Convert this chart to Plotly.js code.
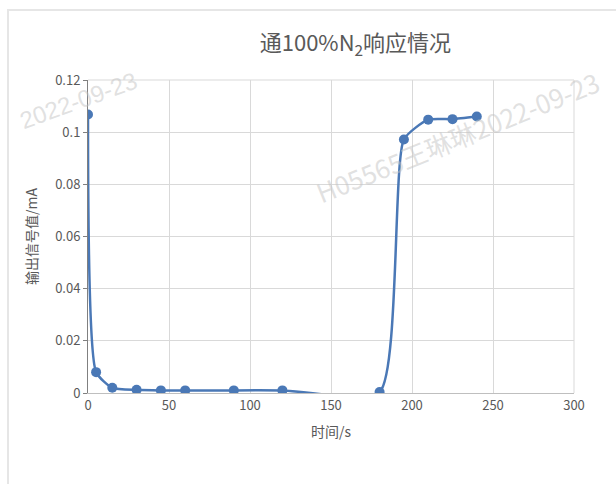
<!DOCTYPE html>
<html>
<head>
<meta charset="utf-8">
<script src="https://cdn.plot.ly/plotly-3.0.1.min.js"></script>
<style>
  html, body { margin: 0; padding: 0; background: #ffffff; }
  #frame { position: absolute; left: 7px; top: 9px; width: 640px; height: 500px;
           border-left: 2px solid #e6e6e6; border-top: 2px solid #e6e6e6; }
  #chart { position: absolute; left: 0; top: 0; width: 616px; height: 484px; }
</style>
</head>
<body>
<div id="frame"></div>
<div id="chart"></div>
<script>
// Data
const timeSeconds = [0, 5, 15, 30, 45, 60, 90, 120, 180, 195, 210, 225, 240];
const outputSignal = [0.1068, 0.0080, 0.0020, 0.0012, 0.0010, 0.0010, 0.0010, 0.0010, 0.0004, 0.0972, 0.1048, 0.1050, 0.1060];
const yTickValues = [0, 0.02, 0.04, 0.06, 0.08, 0.1, 0.12];
const yTickLabels = ['0', '0.02', '0.04', '0.06', '0.08', '0.1', '0.12'];
const xTickValues = [0, 50, 100, 150, 200, 250, 300];

const greyText = '#595959';
const cjk = '"Noto Sans CJK SC", "Noto Sans", sans-serif';
const wmColor = 'rgba(195,195,195,0.5)';

const trace = {
  x: timeSeconds,
  y: outputSignal,
  type: 'scatter',
  mode: 'lines+markers',
  line: { color: '#4a78b6', width: 2.5, shape: 'spline', smoothing: 0.55 },
  marker: { color: '#4a78b6', size: 10 },
  cliponaxis: true,
  showlegend: false
};

const layout = {
  width: 616,
  height: 484,
  paper_bgcolor: 'rgba(0,0,0,0)',
  plot_bgcolor: '#ffffff',
  margin: { l: 88, r: 42, t: 80, b: 91 },
  font: { family: cjk, color: greyText, size: 13 },
  title: {
    text: '通100%N<sub>2</sub>响应情况',
    font: { family: cjk, size: 22, color: greyText },
    x: 0.577, xanchor: 'center', y: 0.91, yanchor: 'middle'
  },
  xaxis: {
    range: [0, 300],
    tickvals: xTickValues,
    ticktext: xTickValues.map(String),
    showgrid: true,
    gridcolor: '#d9d9d9',
    gridwidth: 1,
    zeroline: false,
    showline: true,
    linecolor: '#bfbfbf',
    linewidth: 1,
    ticks: '',
    tickfont: { size: 13, color: greyText },
    title: { text: '时间/s', font: { size: 14, color: greyText }, standoff: 14 }
  },
  yaxis: {
    range: [0, 0.12],
    tickvals: yTickValues,
    ticktext: yTickLabels,
    showgrid: true,
    gridcolor: '#d9d9d9',
    gridwidth: 1,
    zeroline: false,
    showline: true,
    linecolor: '#808080',
    linewidth: 1,
    ticks: 'outside',
    ticklen: 4,
    tickcolor: '#808080',
    tickfont: { size: 13, color: greyText },
    title: { text: '输出信号值/mA', font: { size: 14, color: greyText }, standoff: 14 }
  },
  shapes: [
    { type: 'line', xref: 'paper', yref: 'paper', x0: 1, x1: 1, y0: 0, y1: 1,
      line: { color: '#d9d9d9', width: 1 } },
    { type: 'line', xref: 'paper', yref: 'paper', x0: 0, x1: 1, y0: 1, y1: 1,
      line: { color: '#d9d9d9', width: 1 } }
  ],
  annotations: [
    { text: '2022-09-23', xref: 'paper', yref: 'paper', x: -0.02, y: 0.935,
      xanchor: 'center', yanchor: 'middle',
      showarrow: false, textangle: -20, font: { family: 'Liberation Sans, sans-serif', size: 24, color: wmColor } },
    { text: 'H05565王琳琳2022-09-23', xref: 'paper', yref: 'paper', x: 0.76, y: 0.82,
      xanchor: 'center', yanchor: 'middle',
      showarrow: false, textangle: -22, font: { family: cjk, size: 26, color: wmColor } }
  ]
};

Plotly.newPlot('chart', [trace], layout, { displayModeBar: false, staticPlot: true });
</script>
</body>
</html>
